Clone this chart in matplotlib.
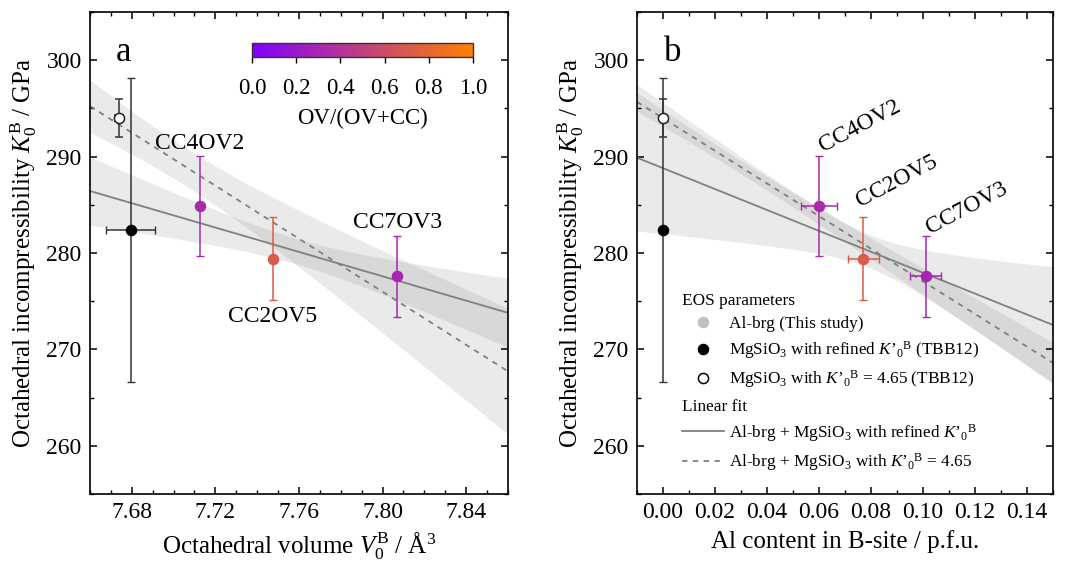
import numpy as np
import matplotlib
matplotlib.use("Agg")
import matplotlib.pyplot as plt
from matplotlib.colors import LinearSegmentedColormap, Normalize
from matplotlib.cm import ScalarMappable
from matplotlib.lines import Line2D
from matplotlib.ticker import MultipleLocator, FormatStrFormatter

# ---- data -------------------------------------------------------------
samples = ["CC4OV2", "CC2OV5", "CC7OV3"]
cc_count = [4, 2, 7]
ov_count = [2, 5, 3]

# Al-bearing bridgmanite (this study)
albrg_volume = [7.7126, 7.7475, 7.8070]
albrg_volume_err = [0.0015, 0.0015, 0.0015]
albrg_al = [0.060, 0.077, 0.101]
albrg_al_err = [0.007, 0.006, 0.006]
albrg_k0 = [284.9, 279.4, 277.6]
albrg_k0_err = [5.2, 4.3, 4.2]

# MgSiO3 (TBB12), refined K'0 and fixed K'0 = 4.65
mgsio3_refined_volume = 7.6795
mgsio3_refined_volume_err = 0.0118
mgsio3_refined_k0 = 282.4
mgsio3_refined_k0_err = 15.8

mgsio3_fixed_volume = 7.6740
mgsio3_fixed_volume_err = 0.0018
mgsio3_fixed_k0 = 294.0
mgsio3_fixed_k0_err = 2.0

mgsio3_al = 0.0
mgsio3_al_err = 0.0008

# ---- style ------------------------------------------------------------
plt.rcParams.update({
    "font.family": ["Liberation Serif", "DejaVu Serif"],
    "mathtext.fontset": "custom",
    "mathtext.rm": "Liberation Serif",
    "mathtext.it": "Liberation Serif:italic",
    "mathtext.bf": "Liberation Serif:bold",
    "axes.linewidth": 1.2,
    "xtick.direction": "in",
    "ytick.direction": "in",
    "xtick.top": True,
    "ytick.right": True,
    "xtick.major.size": 5,
    "ytick.major.size": 5,
    "xtick.minor.size": 3,
    "ytick.minor.size": 3,
    "xtick.major.width": 1.1,
    "ytick.major.width": 1.1,
    "xtick.minor.width": 1.0,
    "ytick.minor.width": 1.0,
})

TICK_FS = 17
LABEL_FS = 18
NAME_FS = 17
LEG_FS = 12.4
MS = 7.3

cmap = LinearSegmentedColormap.from_list("ov_cc", ["#8000ff", "#ff8000"])
ov_frac = [o / (o + c) for o, c in zip(ov_count, cc_count)]
colors = [cmap(f) for f in ov_frac]

fit_grey = "#808080"
band_scale = 1.37


def weighted_fit(x, y, sy):
    x = np.asarray(x, float)
    y = np.asarray(y, float)
    w = 1.0 / np.asarray(sy, float) ** 2
    sw = w.sum()
    xm = (w * x).sum() / sw
    ym = (w * y).sum() / sw
    sxx = (w * (x - xm) ** 2).sum()
    slope = (w * (x - xm) * (y - ym)).sum() / sxx
    resid = y - (ym + slope * (x - xm))
    red_chi2 = (w * resid ** 2).sum() / (len(x) - 2)

    def line(xx):
        return ym + slope * (xx - xm)

    def half_width(xx):
        return band_scale * np.sqrt(red_chi2) * np.sqrt(1.0 / sw + (xx - xm) ** 2 / sxx)

    return line, half_width


def draw_fit(ax, x, y, sy, xlim, ls):
    line, hw = weighted_fit(x, y, sy)
    xx = np.linspace(xlim[0], xlim[1], 200)
    ax.fill_between(xx, line(xx) - hw(xx), line(xx) + hw(xx),
                    color=fit_grey, alpha=0.16, lw=0, zorder=1)
    ax.plot(xx, line(xx), color=fit_grey, lw=1.3, ls=ls, zorder=2)


def draw_points(ax, xs, xerrs, mg_ref_x, mg_ref_xerr, mg_fix_x, mg_fix_xerr):
    for xi, xe, yi, ye, c in zip(xs, xerrs, albrg_k0, albrg_k0_err, colors):
        ax.errorbar(xi, yi, xerr=xe, yerr=ye, fmt="o", ms=MS, mfc=c, mec=c,
                    ecolor=c, elinewidth=1.1, capsize=3, capthick=1.0,
                    zorder=5)
    ax.errorbar(mg_ref_x, mgsio3_refined_k0, xerr=mg_ref_xerr,
                yerr=mgsio3_refined_k0_err, fmt="o", ms=MS, mfc="black",
                mec="black", ecolor="#333333", elinewidth=1.1, capsize=3,
                capthick=1.0, zorder=5)
    ax.errorbar(mg_fix_x, mgsio3_fixed_k0, xerr=mg_fix_xerr,
                yerr=mgsio3_fixed_k0_err, fmt="o", ms=MS, mfc="white",
                mec="#222222", mew=1.1, ecolor="#333333", elinewidth=1.1,
                capsize=3, capthick=1.0, zorder=5)


ylabel = r"Octahedral incompressibility $K_0^{\mathrm{B}}$ / GPa"

fig = plt.figure(figsize=(10.8, 5.61), dpi=100)
ax1 = fig.add_axes([90 / 1080, 67 / 561, 418 / 1080, 482 / 561])
ax2 = fig.add_axes([637 / 1080, 67 / 561, 416 / 1080, 482 / 561])

# ---- panel a: octahedral volume -----------------------------------------
xlim_a = (7.66, 7.86)
ref_x_a = [mgsio3_refined_volume] + albrg_volume
ref_y = [mgsio3_refined_k0] + albrg_k0
ref_sy = [mgsio3_refined_k0_err] + albrg_k0_err
fix_x_a = [mgsio3_fixed_volume] + albrg_volume
fix_y = [mgsio3_fixed_k0] + albrg_k0
fix_sy = [mgsio3_fixed_k0_err] + albrg_k0_err

draw_fit(ax1, ref_x_a, ref_y, ref_sy, xlim_a, "-")
draw_fit(ax1, fix_x_a, fix_y, fix_sy, xlim_a, (0, (3, 3)))
draw_points(ax1, albrg_volume, albrg_volume_err,
            mgsio3_refined_volume, mgsio3_refined_volume_err,
            mgsio3_fixed_volume, mgsio3_fixed_volume_err)

ax1.set_xlim(*xlim_a)
ax1.set_ylim(255, 305)
ax1.xaxis.set_major_locator(MultipleLocator(0.04))
ax1.xaxis.set_minor_locator(MultipleLocator(0.01))
ax1.yaxis.set_minor_locator(MultipleLocator(5))
ax1.set_yticks([260, 270, 280, 290, 300])
ax1.xaxis.set_major_formatter(FormatStrFormatter("%.2f"))
ax1.tick_params(labelsize=TICK_FS, pad=6)
ax1.set_xlabel(r"Octahedral volume $V_0^{\mathrm{B}}$ / Å$^3$", fontsize=LABEL_FS, labelpad=5)
ax1.set_ylabel(ylabel, fontsize=LABEL_FS, labelpad=5)
ax1.text(0.081, 0.917, "a", transform=ax1.transAxes, fontsize=25,
         ha="center", va="center")

label_offsets_a = [(0, 62), (0, -58), (0, 54)]
for name, xi, yi, off in zip(samples, albrg_volume, albrg_k0, label_offsets_a):
    ax1.annotate(name, (xi, yi), xytext=off, textcoords="offset pixels",
                 fontsize=NAME_FS, ha="center", va="center")

# colour bar for OV/(OV+CC)
cax = fig.add_axes([252 / 1080, (561 - 56.7) / 561, 221 / 1080, 13.4 / 561])
sm = ScalarMappable(norm=Normalize(0, 1), cmap=cmap)
cb = fig.colorbar(sm, cax=cax, orientation="horizontal")
cb.set_ticks([0, 0.2, 0.4, 0.6, 0.8, 1.0])
cb.set_ticklabels(["0.0", "0.2", "0.4", "0.6", "0.8", "1.0"])
cb.outline.set_linewidth(1.0)
cb.outline.set_edgecolor("#333333")
cax.tick_params(axis="x", direction="out", length=4, width=1.0,
                labelsize=16.5, pad=11, top=False, bottom=True)
cax.minorticks_off()
cb.set_label("OV/(OV+CC)", fontsize=16.5, labelpad=7)

# ---- panel b: Al content ------------------------------------------------
xlim_b = (-0.01, 0.15)
ref_x_b = [mgsio3_al] + albrg_al
fix_x_b = [mgsio3_al] + albrg_al

draw_fit(ax2, ref_x_b, ref_y, ref_sy, xlim_b, "-")
draw_fit(ax2, fix_x_b, fix_y, fix_sy, xlim_b, (0, (3, 3)))
draw_points(ax2, albrg_al, albrg_al_err, mgsio3_al, mgsio3_al_err,
            mgsio3_al, mgsio3_al_err)

ax2.set_xlim(*xlim_b)
ax2.set_ylim(255, 305)
ax2.xaxis.set_major_locator(MultipleLocator(0.02))
ax2.xaxis.set_minor_locator(MultipleLocator(0.01))
ax2.yaxis.set_minor_locator(MultipleLocator(5))
ax2.set_yticks([260, 270, 280, 290, 300])
ax2.xaxis.set_major_formatter(FormatStrFormatter("%.2f"))
ax2.tick_params(labelsize=TICK_FS, pad=6)
ax2.set_xlabel("Al content in B-site / p.f.u.", fontsize=LABEL_FS, labelpad=5)
ax2.set_ylabel(ylabel, fontsize=LABEL_FS, labelpad=5)
ax2.text(0.087, 0.917, "b", transform=ax2.transAxes, fontsize=25,
         ha="center", va="center")

label_offsets_b = [(4, 54), (-3, 52), (4, 42)]
for name, xi, yi, off in zip(samples, albrg_al, albrg_k0, label_offsets_b):
    ax2.annotate(name, (xi, yi), xytext=off, textcoords="offset pixels",
                 fontsize=NAME_FS, ha="left", va="baseline", rotation=28,
                 rotation_mode="anchor")

# legends
kprime = r"$K$’${}_0{}^{\mathrm{B}}$"
eos_handles = [
    Line2D([], [], ls="none", marker="o", ms=MS, mfc="#c0c0c0", mec="#c0c0c0"),
    Line2D([], [], ls="none", marker="o", ms=MS, mfc="black", mec="black"),
    Line2D([], [], ls="none", marker="o", ms=MS, mfc="white", mec="black", mew=1.1),
]
eos_labels = [
    "Al-brg (This study)",
    "MgSiO$_3$ with refined " + kprime + " (TBB12)",
    "MgSiO$_3$ with " + kprime + " = 4.65 (TBB12)",
]
fit_handles = [
    Line2D([], [], color=fit_grey, lw=1.3, ls="-"),
    Line2D([], [], color=fit_grey, lw=1.3, ls=(0, (3, 3))),
]
fit_labels = [
    "Al-brg + MgSiO$_3$ with refined " + kprime,
    "Al-brg + MgSiO$_3$ with " + kprime + " = 4.65",
]
leg_kw = dict(frameon=False, fontsize=LEG_FS, title_fontsize=LEG_FS,
              handlelength=2.44, handletextpad=0.3, borderpad=0,
              borderaxespad=0, labelspacing=0.42, alignment="left",
              loc="upper left")
leg1 = ax2.legend(eos_handles, eos_labels, title="EOS parameters",
                  bbox_to_anchor=(0.108, 0.418), **leg_kw)
ax2.add_artist(leg1)
ax2.legend(fit_handles, fit_labels, title="Linear fit",
           bbox_to_anchor=(0.108, 0.198), **leg_kw)

fig.savefig("out.png", dpi=100)
